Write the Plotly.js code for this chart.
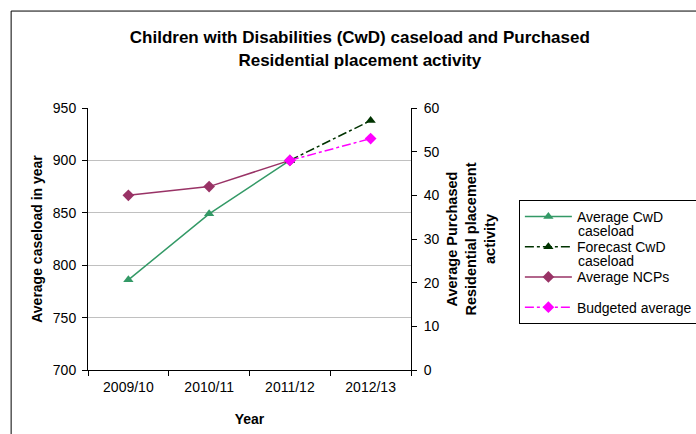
<!DOCTYPE html>
<html>
<head>
<meta charset="utf-8">
<script src="https://cdn.plot.ly/plotly-3.0.1.min.js"></script>
<style>
  html, body { margin: 0; padding: 0; background: #fff; }
  #chart { width: 696px; height: 434px; }
</style>
</head>
<body>
<div id="chart"></div>
<script>
// Financial years on the category axis
var years = ['2009/10', '2010/11', '2011/12', '2012/13'];

// Children with Disabilities caseload (left axis)
var avgCaseload = [786, 849, 900, null];
var forecastCaseload = [null, null, 900, 938];

// Purchased residential placements (right axis)
var avgNCPs = [40, 42, 48, null];
var budgetedAverage = [null, null, 48, 53];

// Legend labels; the wrapped second word sits under its entry
var seriesNames = ['Average CwD', 'Forecast CwD', 'Average NCPs', 'Budgeted average'];
var wrapWord = 'caseload';

var FONT = 'Liberation Sans, Arial, sans-serif';

var traces = [
  {
    name: seriesNames[0], legendgroup: 'g1',
    x: years, y: avgCaseload, yaxis: 'y',
    mode: 'lines+markers',
    line: { color: '#339966', width: 1.5 },
    marker: { symbol: 'triangle-up', size: 9, color: '#339966' }
  },
  {
    name: seriesNames[1], legendgroup: 'g2',
    x: years, y: forecastCaseload, yaxis: 'y',
    mode: 'lines+markers',
    line: { color: '#003300', width: 1.5, dash: 'dashdot' },
    marker: { symbol: 'triangle-up', size: 9, color: '#003300' }
  },
  {
    name: seriesNames[2], legendgroup: 'g3',
    x: years, y: avgNCPs, yaxis: 'y2',
    mode: 'lines+markers',
    line: { color: '#993366', width: 1.5 },
    marker: { symbol: 'diamond', size: 9, color: '#993366' }
  },
  {
    name: seriesNames[3], legendgroup: 'g4',
    x: years, y: budgetedAverage, yaxis: 'y2',
    mode: 'lines+markers',
    line: { color: '#FF00FF', width: 1.5, dash: 'dashdot' },
    marker: { symbol: 'diamond', size: 9, color: '#FF00FF' }
  }
];

var layout = {
  width: 696,
  height: 434,
  margin: { l: 88, r: 285, t: 108, b: 64, autoexpand: false },
  paper_bgcolor: '#ffffff',
  plot_bgcolor: '#ffffff',
  font: { family: FONT, size: 14, color: '#000' },
  showlegend: true,
  title: {
    text: '<b>Children with Disabilities (CwD) caseload and Purchased<br>Residential placement activity</b>',
    font: { family: FONT, size: 17, color: '#000' },
    x: 0.517, xanchor: 'center',
    y: 0.90, yanchor: 'middle'
  },
  xaxis: {
    type: 'category',
    range: [-0.5, 3.5],
    tickson: 'boundaries',
    ticks: 'outside', ticklen: 5, tickcolor: '#000',
    ticklabelstandoff: 4,
    showline: true, linecolor: '#000', linewidth: 1,
    showgrid: false, zeroline: false,
    tickfont: { family: FONT, size: 14 },
    title: { text: '<b>Year</b>', font: { family: FONT, size: 14 }, standoff: 20 },
    fixedrange: true
  },
  yaxis: {
    range: [700, 950], dtick: 50,
    ticks: 'outside', ticklen: 5, tickcolor: '#000',
    ticklabelstandoff: 3,
    showline: true, linecolor: '#000', linewidth: 1,
    showgrid: true, gridcolor: '#c0c0c0', gridwidth: 1,
    zeroline: false,
    tickfont: { family: FONT, size: 14 },
    title: { text: '<b>Average caseload in year</b>', font: { family: FONT, size: 14 }, standoff: 6 },
    fixedrange: true
  },
  yaxis2: {
    overlaying: 'y', side: 'right',
    range: [0, 60], dtick: 10,
    ticks: 'outside', ticklen: 5, tickcolor: '#000',
    ticklabelstandoff: 4,
    showline: true, linecolor: '#000', linewidth: 1,
    showgrid: false, zeroline: false,
    tickfont: { family: FONT, size: 14 },
    title: {
      text: '<b>Average Purchased<br>Residential placement<br>activity</b>',
      font: { family: FONT, size: 14.5 }, standoff: 8
    },
    fixedrange: true
  },
  // inner half of the crossing ticks on the right axis
  yaxis3: {
    overlaying: 'y', side: 'right', anchor: 'x',
    range: [0, 60], dtick: 10,
    ticks: 'inside', ticklen: 4, tickcolor: '#000',
    showticklabels: false, showline: false, showgrid: false, zeroline: false,
    fixedrange: true
  },
  legend: {
    x: 1.334, xanchor: 'left',
    y: 0.649, yanchor: 'top',
    bgcolor: '#ffffff',
    bordercolor: '#000', borderwidth: 1,
    font: { family: FONT, size: 14, color: '#000' },
    itemwidth: 47,
    traceorder: 'grouped',
    tracegroupgap: 9
  },
  annotations: [
    {
      text: wrapWord, xref: 'paper', yref: 'paper',
      x: 1.512, xanchor: 'left', y: 0.532, yanchor: 'middle',
      showarrow: false, font: { family: FONT, size: 14, color: '#000' }
    },
    {
      text: wrapWord, xref: 'paper', yref: 'paper',
      x: 1.512, xanchor: 'left', y: 0.417, yanchor: 'middle',
      showarrow: false, font: { family: FONT, size: 14, color: '#000' }
    }
  ],
  shapes: [
    {
      type: 'rect', xref: 'paper', yref: 'paper',
      x0: -0.238, x1: 2.0, y0: -0.6, y1: 1.37,
      line: { color: '#000', width: 1 }, fillcolor: 'rgba(0,0,0,0)',
      layer: 'below'
    }
  ]
};

Plotly.newPlot('chart', traces, layout, { displayModeBar: false, staticPlot: true });
</script>
</body>
</html>
